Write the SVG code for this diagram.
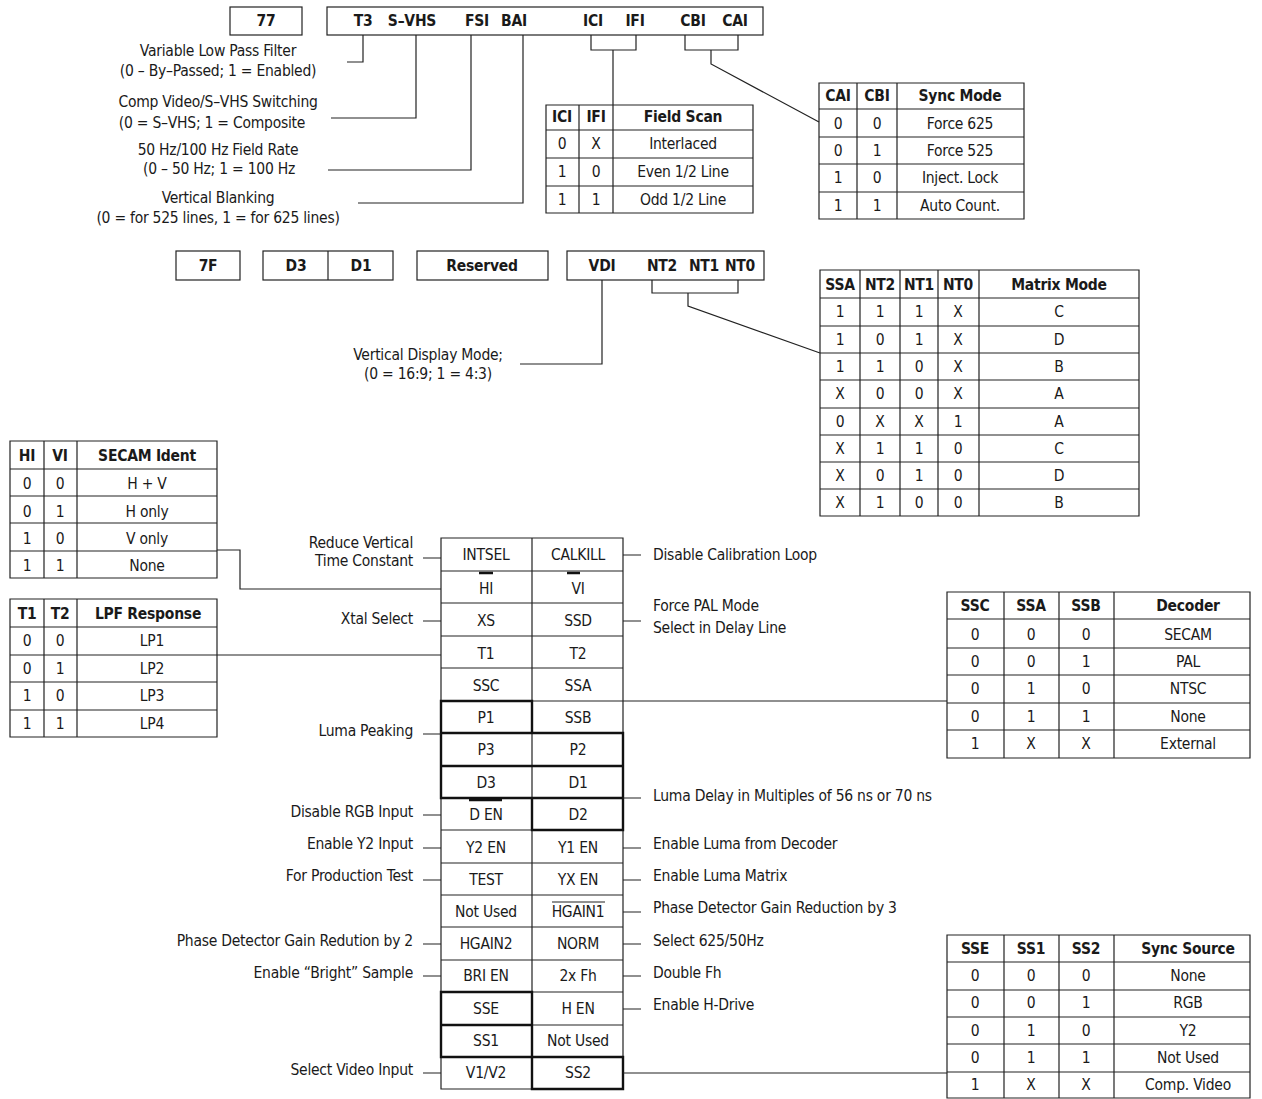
<svg xmlns="http://www.w3.org/2000/svg" width="1262" height="1099" viewBox="0 0 1262 1099">
<style>
text{font-family:"Liberation Sans Narrow","DejaVu Sans Condensed","Liberation Sans",sans-serif;font-size:15.5px;letter-spacing:-0.25px;fill:#1a1a1a;dominant-baseline:central;text-anchor:middle}
.b{font-weight:bold}
.r{text-anchor:end}
.l{text-anchor:start}
.g{fill:none;stroke:#222;stroke-width:1.2}
.k{fill:none;stroke:#111;stroke-width:2.4}
.w{fill:none;stroke:#222;stroke-width:1.2}
</style>
<rect width="1262" height="1099" fill="#fff"/>

<!-- top register row -->
<g id="reg77"><rect class="g" x="230" y="7" width="72" height="28"/><text class="b" x="266" y="21">77</text></g>
<g id="reg77bits"><rect class="g" x="327" y="7" width="436" height="28"/>
<text class="b" x="363" y="21">T3</text><text class="b" x="412" y="21">S–VHS</text><text class="b" x="477" y="21">FSI</text><text class="b" x="514" y="21">BAI</text>
<text class="b" x="593" y="21">ICI</text><text class="b" x="635" y="21">IFI</text><text class="b" x="693" y="21">CBI</text><text class="b" x="735" y="21">CAI</text></g>

<g id="lbl-top">
<text x="218" y="51">Variable Low Pass Filter</text><text x="218" y="71">(0 – By–Passed; 1 = Enabled)</text>
<text x="218" y="102">Comp Video/S–VHS Switching</text><text x="212" y="123">(0 = S–VHS; 1 = Composite</text>
<text x="218" y="150">50 Hz/100 Hz Field Rate</text><text x="219" y="169">(0 – 50 Hz; 1 = 100 Hz</text>
<text x="218" y="198">Vertical Blanking</text><text x="218" y="218">(0 = for 525 lines, 1 = for 625 lines)</text>
</g>

<!-- Field scan table -->
<g id="tbl-fieldscan">
<path class="g" d="M546 105H753V213H546Z M579 105V213 M613 105V213 M546 130H753 M546 158H753 M546 186H753"/>
<text class="b" x="562" y="117">ICI</text><text class="b" x="596" y="117">IFI</text><text class="b" x="683" y="117">Field Scan</text>
<text x="562" y="144">0</text><text x="596" y="144">X</text><text x="683" y="144">Interlaced</text>
<text x="562" y="172">1</text><text x="596" y="172">0</text><text x="683" y="172">Even 1/2 Line</text>
<text x="562" y="200">1</text><text x="596" y="200">1</text><text x="683" y="200">Odd 1/2 Line</text>
</g>

<!-- Sync mode table -->
<g id="tbl-syncmode">
<path class="g" d="M819 83H1024V219H819Z M857 83V219 M897 83V219 M819 109H1024 M819 137H1024 M819 164H1024 M819 192H1024"/>
<text class="b" x="838" y="96">CAI</text><text class="b" x="877" y="96">CBI</text><text class="b" x="960" y="96">Sync  Mode</text>
<text x="838" y="124">0</text><text x="877" y="124">0</text><text x="960" y="124">Force 625</text>
<text x="838" y="151">0</text><text x="877" y="151">1</text><text x="960" y="151">Force 525</text>
<text x="838" y="178">1</text><text x="877" y="178">0</text><text x="960" y="178">Inject. Lock</text>
<text x="838" y="206">1</text><text x="877" y="206">1</text><text x="960" y="206">Auto Count.</text>
</g>

<!-- second register row -->
<g id="reg7F"><rect class="g" x="176" y="251" width="64" height="29"/><text class="b" x="208" y="266">7F</text></g>
<g id="reg7Fd"><rect class="g" x="263" y="251" width="130" height="29"/><line class="g" x1="328" y1="251" x2="328" y2="280"/><text class="b" x="296" y="266">D3</text><text class="b" x="361" y="266">D1</text></g>
<g id="reg7Fres"><rect class="g" x="417" y="251" width="131" height="29"/><text class="b" x="482" y="266">Reserved</text></g>
<g id="reg7Fbits"><rect class="g" x="567" y="251" width="197" height="29"/>
<text class="b" x="602" y="266">VDI</text><text class="b" x="662" y="266">NT2</text><text class="b" x="704" y="266">NT1</text><text class="b" x="740" y="266">NT0</text></g>

<g id="lbl-vdi"><text x="428" y="355">Vertical Display Mode;</text><text x="428" y="374">(0 = 16:9; 1 = 4:3)</text></g>

<!-- Matrix mode table -->
<g id="tbl-matrix">
<path class="g" d="M820 270H1139V516H820Z M860 270V516 M900 270V516 M938 270V516 M979 270V516 M820 298H1139 M820 326H1139 M820 353H1139 M820 380H1139 M820 408H1139 M820 435H1139 M820 462H1139 M820 489H1139"/>
<text class="b" x="840" y="285">SSA</text><text class="b" x="880" y="285">NT2</text><text class="b" x="919" y="285">NT1</text><text class="b" x="958" y="285">NT0</text><text class="b" x="1059" y="285">Matrix Mode</text>
<text x="840" y="312">1</text><text x="880" y="312">1</text><text x="919" y="312">1</text><text x="958" y="312">X</text><text x="1059" y="312">C</text>
<text x="840" y="340">1</text><text x="880" y="340">0</text><text x="919" y="340">1</text><text x="958" y="340">X</text><text x="1059" y="340">D</text>
<text x="840" y="367">1</text><text x="880" y="367">1</text><text x="919" y="367">0</text><text x="958" y="367">X</text><text x="1059" y="367">B</text>
<text x="840" y="394">X</text><text x="880" y="394">0</text><text x="919" y="394">0</text><text x="958" y="394">X</text><text x="1059" y="394">A</text>
<text x="840" y="422">0</text><text x="880" y="422">X</text><text x="919" y="422">X</text><text x="958" y="422">1</text><text x="1059" y="422">A</text>
<text x="840" y="449">X</text><text x="880" y="449">1</text><text x="919" y="449">1</text><text x="958" y="449">0</text><text x="1059" y="449">C</text>
<text x="840" y="476">X</text><text x="880" y="476">0</text><text x="919" y="476">1</text><text x="958" y="476">0</text><text x="1059" y="476">D</text>
<text x="840" y="503">X</text><text x="880" y="503">1</text><text x="919" y="503">0</text><text x="958" y="503">0</text><text x="1059" y="503">B</text>
</g>

<!-- SECAM ident table -->
<g id="tbl-secam">
<path class="g" d="M10 441H217V578H10Z M44 441V578 M77 441V578 M10 469H217 M10 496H217 M10 523H217 M10 551H217"/>
<text class="b" x="27" y="456">HI</text><text class="b" x="60" y="456">VI</text><text class="b" x="147" y="456">SECAM Ident</text>
<text x="27" y="484">0</text><text x="60" y="484">0</text><text x="147" y="484">H + V</text>
<text x="27" y="512">0</text><text x="60" y="512">1</text><text x="147" y="512">H only</text>
<text x="27" y="539">1</text><text x="60" y="539">0</text><text x="147" y="539">V only</text>
<text x="27" y="566">1</text><text x="60" y="566">1</text><text x="147" y="566">None</text>
</g>

<!-- LPF table -->
<g id="tbl-lpf">
<path class="g" d="M10 599H217V737H10Z M44 599V737 M77 599V737 M10 627H217 M10 655H217 M10 682H217 M10 710H217"/>
<text class="b" x="27" y="614">T1</text><text class="b" x="60" y="614">T2</text><text class="b" x="148" y="614">LPF Response</text>
<text x="27" y="641">0</text><text x="60" y="641">0</text><text x="152" y="641">LP1</text>
<text x="27" y="669">0</text><text x="60" y="669">1</text><text x="152" y="669">LP2</text>
<text x="27" y="696">1</text><text x="60" y="696">0</text><text x="152" y="696">LP3</text>
<text x="27" y="724">1</text><text x="60" y="724">1</text><text x="152" y="724">LP4</text>
</g>

<!-- central register map -->
<g id="regmap">
<path class="g" d="M441 538H623V1089H441Z M532 538V1089 M441 571H623 M441 603H623 M441 636H623 M441 668H623 M441 701H623 M441 733H623 M441 766H623 M441 798H623 M441 830H623 M441 863H623 M441 895H623 M441 927H623 M441 960H623 M441 992H623 M441 1025H623 M441 1057H623"/>
<path class="k" d="M441 701H532V733H441Z M441 733H623V766H441Z M441 766H623V798H441Z M532 798H623V830H532Z M441 992H532V1025H441Z M441 1025H532V1057H441Z M532 1057H623V1089H532Z"/>
<text x="486" y="555">INTSEL</text><text x="578" y="555">CALKILL</text>
<text x="486" y="589">HI</text><text x="578" y="589">VI</text>
<text x="486" y="621">XS</text><text x="578" y="621">SSD</text>
<text x="486" y="654">T1</text><text x="578" y="654">T2</text>
<text x="486" y="686">SSC</text><text x="578" y="686">SSA</text>
<text x="486" y="718">P1</text><text x="578" y="718">SSB</text>
<text x="486" y="750">P3</text><text x="578" y="750">P2</text>
<text x="486" y="783">D3</text><text x="578" y="783">D1</text>
<text x="486" y="815">D EN</text><text x="578" y="815">D2</text>
<text x="486" y="848">Y2 EN</text><text x="578" y="848">Y1 EN</text>
<text x="486" y="880">TEST</text><text x="578" y="880">YX EN</text>
<text x="486" y="912">Not Used</text><text x="578" y="912">HGAIN1</text>
<text x="486" y="944">HGAIN2</text><text x="578" y="944">NORM</text>
<text x="486" y="976">BRI EN</text><text x="578" y="976">2x Fh</text>
<text x="486" y="1009">SSE</text><text x="578" y="1009">H EN</text>
<text x="486" y="1041">SS1</text><text x="578" y="1041">Not Used</text>
<text x="486" y="1073">V1/V2</text><text x="578" y="1073">SS2</text>
<path class="k" d="M479 573H493 M567 573H580 M469 800H502"/>
<path class="g" d="M552 902H605"/>
</g>

<!-- left labels -->
<g id="lbl-left">
<text class="r" x="413" y="543">Reduce Vertical</text><text class="r" x="413" y="561">Time Constant</text>
<text class="r" x="413" y="619">Xtal Select</text>
<text class="r" x="413" y="731">Luma Peaking</text>
<text class="r" x="413" y="812">Disable RGB Input</text>
<text class="r" x="413" y="844">Enable Y2 Input</text>
<text class="r" x="413" y="876">For Production Test</text>
<text class="r" x="413" y="941">Phase Detector Gain Redution by 2</text>
<text class="r" x="413" y="973">Enable “Bright” Sample</text>
<text class="r" x="413" y="1070">Select Video Input</text>
</g>

<!-- right labels -->
<g id="lbl-right">
<text class="l" x="653" y="555">Disable Calibration Loop</text>
<text class="l" x="653" y="606">Force PAL Mode</text><text class="l" x="653" y="628">Select in Delay Line</text>
<text class="l" x="653" y="796">Luma Delay in Multiples of 56 ns or 70 ns</text>
<text class="l" x="653" y="844">Enable Luma from Decoder</text>
<text class="l" x="653" y="876">Enable Luma Matrix</text>
<text class="l" x="653" y="908">Phase Detector Gain Reduction by 3</text>
<text class="l" x="653" y="941">Select 625/50Hz</text>
<text class="l" x="653" y="973">Double Fh</text>
<text class="l" x="653" y="1005">Enable H-Drive</text>
</g>

<!-- Decoder table -->
<g id="tbl-decoder">
<path class="g" d="M947 592H1250V758H947Z M1004 592V758 M1059 592V758 M1114 592V758 M947 619H1250 M947 648H1250 M947 675H1250 M947 703H1250 M947 730H1250"/>
<text class="b" x="975" y="606">SSC</text><text class="b" x="1031" y="606">SSA</text><text class="b" x="1086" y="606">SSB</text><text class="b" x="1188" y="606">Decoder</text>
<text x="975" y="635">0</text><text x="1031" y="635">0</text><text x="1086" y="635">0</text><text x="1188" y="635">SECAM</text>
<text x="975" y="662">0</text><text x="1031" y="662">0</text><text x="1086" y="662">1</text><text x="1188" y="662">PAL</text>
<text x="975" y="689">0</text><text x="1031" y="689">1</text><text x="1086" y="689">0</text><text x="1188" y="689">NTSC</text>
<text x="975" y="717">0</text><text x="1031" y="717">1</text><text x="1086" y="717">1</text><text x="1188" y="717">None</text>
<text x="975" y="744">1</text><text x="1031" y="744">X</text><text x="1086" y="744">X</text><text x="1188" y="744">External</text>
</g>

<!-- Sync source table -->
<g id="tbl-syncsource">
<path class="g" d="M947 935H1250V1098H947Z M1004 935V1098 M1059 935V1098 M1114 935V1098 M947 962H1250 M947 990H1250 M947 1017H1250 M947 1044H1250 M947 1072H1250"/>
<text class="b" x="975" y="949">SSE</text><text class="b" x="1031" y="949">SS1</text><text class="b" x="1086" y="949">SS2</text><text class="b" x="1188" y="949">Sync Source</text>
<text x="975" y="976">0</text><text x="1031" y="976">0</text><text x="1086" y="976">0</text><text x="1188" y="976">None</text>
<text x="975" y="1003">0</text><text x="1031" y="1003">0</text><text x="1086" y="1003">1</text><text x="1188" y="1003">RGB</text>
<text x="975" y="1031">0</text><text x="1031" y="1031">1</text><text x="1086" y="1031">0</text><text x="1188" y="1031">Y2</text>
<text x="975" y="1058">0</text><text x="1031" y="1058">1</text><text x="1086" y="1058">1</text><text x="1188" y="1058">Not Used</text>
<text x="975" y="1085">1</text><text x="1031" y="1085">X</text><text x="1086" y="1085">X</text><text x="1188" y="1085">Comp. Video</text>
</g>

<!-- connectors -->
<g id="connectors" class="w">
<path d="M363 35V62H347"/>
<path d="M416 35V118H331"/>
<path d="M471 35V170H328"/>
<path d="M523 35V203H358"/>
<path d="M591 35V50H636V35 M613 50V105"/>
<path d="M685 35V50H738V35 M711 50V64L819 122"/>
<path d="M602 280V364H520"/>
<path d="M652 280V293H738V280 M688 293V306L820 353"/>
<path d="M217 550H240V589H441"/>
<path d="M217 655H441"/>
<path d="M423 558H441 M423 621H441 M423 734H441 M423 815H441 M423 848H441 M423 880H441 M423 944H441 M423 976H441 M423 1073H441"/>
<path d="M623 555H641 M623 621H641 M623 798H641 M623 848H641 M623 880H641 M623 912H641 M623 944H641 M623 976H641 M623 1009H641"/>
<path d="M623 701H947"/>
<path d="M623 1073H947"/>
</g>
</svg>
